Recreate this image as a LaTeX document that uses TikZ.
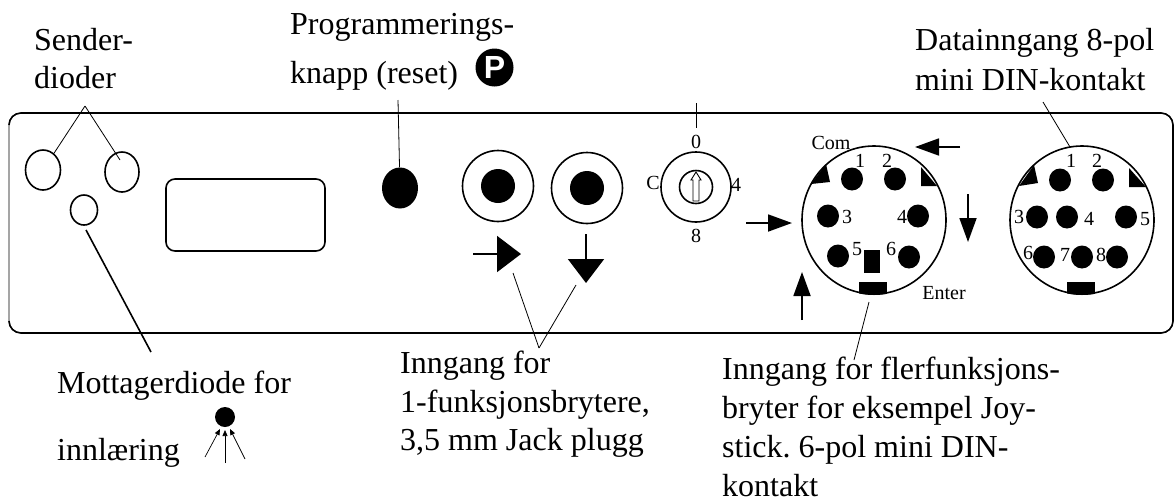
\documentclass[tikz,border=0pt]{standalone}
\usepackage{fontspec}
\setmainfont{Liberation Serif}
\setsansfont{Liberation Sans}
\frenchspacing
\usetikzlibrary{shapes.geometric,arrows.meta}
\tikzset{
  big/.style={anchor=base west,inner sep=0pt,font=\fontsize{32}{32}\selectfont},
  small/.style={inner sep=0pt,font=\fontsize{20}{20}\selectfont},
  thick line/.style={line width=1.6pt},
  leader/.style={line width=0.8pt},
  hole/.style={draw,ellipse,line width=1.6pt,inner sep=0pt},
  pinhole/.style={ellipse,fill=black,inner sep=0pt,minimum width=22pt,minimum height=23pt},
  jackdot/.style={circle,fill=black,inner sep=0pt,minimum size=34pt},
  ring/.style={draw,circle,line width=1.6pt,inner sep=0pt,minimum size=71pt},
  din/.style={draw,ellipse,line width=1.6pt,inner sep=0pt,minimum width=144pt,minimum height=148pt},
  bigarrow/.style={line width=1.8pt,-{Triangle[length=24pt,width=36pt]}},
  midarrow/.style={line width=1.8pt,-{Triangle[length=24pt,width=17pt]}},
  tinyarrow/.style={line width=0.7pt,-{Triangle[length=6pt,width=5pt]}}
}
\begin{document}
\begin{tikzpicture}[x=1pt,y=-1pt]
\useasboundingbox (0,0) rectangle (1174,499);
% panel
\node[draw,line width=0.9pt,rounded corners=12pt,minimum width=1164pt,minimum height=220pt,inner sep=0pt] (panel) at (591,223) {};
\draw[thick line,rounded corners=12pt] (9,125) -- (9,113) -- (1173,113) -- (1173,333) -- (9,333) -- (9,321);
% left group
\node[hole,minimum width=35pt,minimum height=40pt] (s1) at (43,170) {};
\node[hole,minimum width=34pt,minimum height=40pt] (s2) at (122,172) {};
\node[hole,minimum width=27pt,minimum height=30pt] (rx) at (84,210) {};
\node[draw,line width=1.6pt,rounded corners=9pt,minimum width=159pt,minimum height=72pt,inner sep=0pt] (screen) at (245.5,215) {};
\node[ellipse,fill=black,inner sep=0pt,minimum width=36pt,minimum height=41pt] (btn) at (400,188) {};
\coordinate (apex) at (85,106);
\draw[leader] (apex) -- (s1);
\draw[leader] (apex) -- (120,160) coordinate (s2in);
\coordinate (rxend) at (151,352);
\draw[thick line] (86,230) coordinate (rxstart) -- (rxend);
\coordinate (btntop) at (398,100);
\draw[leader] (btntop) -- (btn);
% jacks
\node[ring] (j1) at (498,186) {};
\node[jackdot] (j1d) at (498,186) {};
\node[ring] (j2) at (587,188) {};
\node[jackdot] (j2d) at (587,188) {};
\draw[bigarrow] (473,254) coordinate (ja1) -- (521,254) coordinate (ja2);
\draw[bigarrow] (586,234) coordinate (jb1) -- (586,283) coordinate (jb2);
\coordinate (japex) at (539,348);
\draw[leader] (513,273) coordinate (jl1) -- (japex);
\draw[leader] (576,285) coordinate (jl2) -- (japex);
% key switch
\node[draw,circle,line width=1.6pt,inner sep=0pt,minimum size=70pt] (key) at (696,187) {};
\node[draw,circle,line width=1.6pt,inner sep=0pt,minimum size=33pt] (keyin) at (696,187) {};
\draw[line width=0.9pt] (693,201) -- (693,180) -- (691,180) -- (696,172) -- (701,180) -- (699,180) -- (699,201) -- cycle;
\coordinate (keytick) at (696,103);
\coordinate (keytickb) at (696,128);
\draw[leader] (keytick) -- (keytickb);
\node[small] (k0) at (696,142) {0};
\node[small] (kc) at (653,183) {C};
\node[small] (k4) at (736,185) {4};
\node[small] (k8) at (696,236) {8};
% six-pin connector
\node[din] (d6) at (874,220) {};
\fill (826,164) -- (830,182) -- (811,184) -- cycle;
\fill (921,167) -- (921,186) -- (937,186) -- cycle;
\begin{scope}
\clip (874,220) ellipse [x radius=73,y radius=75];
\fill (859,282) rectangle (887,296);
\end{scope}
\fill (864,250) rectangle (880,273);
\node[pinhole] (a1) at (852,179) {};
\node[pinhole] (a2) at (895,179) {};
\node[pinhole] (a3) at (828,216) {};
\node[pinhole] (a4) at (918,216) {};
\node[pinhole] (a5) at (838,256) {};
\node[pinhole] (a6) at (909,257) {};
\node[small] (lcom) at (831,143) {Com};
\node[small] (la1) at (860,161) {1};
\node[small] (la2) at (887,161) {2};
\node[small] (la3) at (847,217) {3};
\node[small] (la4) at (902,217) {4};
\node[small] (la5) at (857,249) {5};
\node[small] (la6) at (891,249) {6};
\node[small] (lent) at (944,293) {Enter};
\draw[midarrow] (960,147) coordinate (m1) -- (915,147) coordinate (m2);
\draw[midarrow] (746,223) coordinate (m3) -- (792,223) coordinate (m4);
\draw[midarrow] (968,194) coordinate (m5) -- (968,242) coordinate (m6);
\draw[midarrow] (802,320) coordinate (m7) -- (802,272) coordinate (m8);
\coordinate (d6t) at (869,302);
\coordinate (d6b) at (854,360);
\draw[leader] (d6t) -- (d6b);
% eight-pin connector
\node[din] (d8) at (1082,220) {};
\fill (1034,165) -- (1038,183) -- (1019,186) -- cycle;
\fill (1129,168) -- (1129,187) -- (1146,187) -- cycle;
\begin{scope}
\clip (1082,220) ellipse [x radius=73,y radius=75];
\fill (1067,282) rectangle (1095,296);
\end{scope}
\node[pinhole] (b1) at (1060,180) {};
\node[pinhole] (b2) at (1103,180) {};
\node[pinhole] (b3) at (1037,217) {};
\node[pinhole] (b4) at (1067,217) {};
\node[pinhole] (b5) at (1126,217) {};
\node[pinhole] (b6) at (1044,257) {};
\node[pinhole] (b7) at (1082,257) {};
\node[pinhole] (b8) at (1117,257) {};
\node[small] (lb1) at (1071,161) {1};
\node[small] (lb2) at (1097,161) {2};
\node[small] (lb3) at (1019,217) {3};
\node[small] (lb4) at (1089,219) {4};
\node[small] (lb5) at (1145,219) {5};
\node[small] (lb6) at (1028,253) {6};
\node[small] (lb7) at (1065,255) {7};
\node[small] (lb8) at (1101,255) {8};
\coordinate (d8t) at (1043,102);
\draw[leader] (d8t) -- (1070,147) coordinate (d8b);
% receiver symbol
\node[circle,fill=black,inner sep=0pt,minimum size=20pt] (rdot) at (225,417) {};
\draw[tinyarrow] (205,457) coordinate (r1) -- (220,429) coordinate (r1e);
\draw[tinyarrow] (225,463) coordinate (r2) -- (225,430) coordinate (r2e);
\draw[tinyarrow] (245,459) coordinate (r3) -- (230,429) coordinate (r3e);
% texts
\node[big] (t1) at (34,50) {Sender-};
\node[big] (t2) at (34,88) {dioder};
\node[big] (t3) at (290,34) {Programmerings-};
\node[big] (t4) at (290,83) {knapp (reset)};
\node[circle,fill=black,inner sep=0pt,minimum size=38pt,text=white,font=\fontsize{32}{32}\selectfont\sffamily\bfseries] (psym) at (494.5,67.5) {P};
\node[big] (t5) at (915,50) {Datainngang 8-pol};
\node[big] (t6) at (915,90) {mini DIN-kontakt};
\node[big] (t7) at (57,393) {Mottagerdiode for};
\node[big] (t8) at (57,460) {innlæring};
\node[big] (t9) at (400,373) {Inngang for};
\node[big] (t10) at (400,412) {1-funksjonsbrytere,};
\node[big] (t11) at (400,450) {3,5 mm Jack plugg};
\node[big] (t12) at (722,379) {Inngang for flerfunksjons-};
\node[big] (t13) at (722,418) {bryter for eksempel Joy-};
\node[big] (t14) at (722,457) {stick. 6-pol mini DIN-};
\node[big] (t15) at (722,496) {kontakt};
\end{tikzpicture}
\end{document}
